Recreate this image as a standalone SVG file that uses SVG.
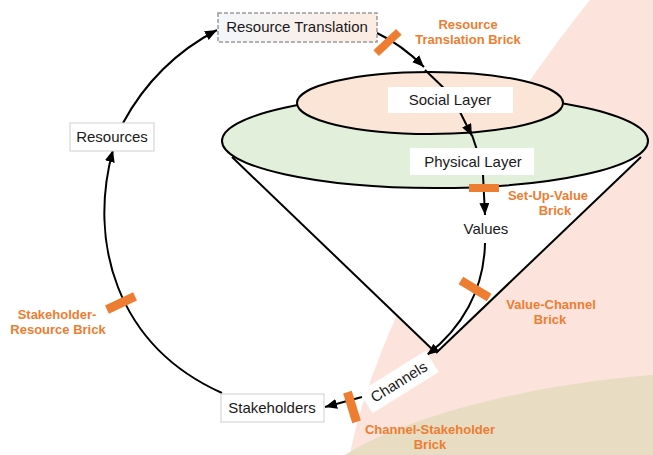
<svg xmlns="http://www.w3.org/2000/svg" width="653" height="455" viewBox="0 0 653 455">
<style>
.lbl{font-family:"Liberation Sans",Arial,sans-serif;font-size:15px;fill:#1a1a1a;text-anchor:middle}
.brk{font-family:"Liberation Sans",Arial,sans-serif;font-size:13px;font-weight:bold;fill:#ed7d31;text-anchor:middle}
.brick{fill:#ed7d31}
.conn{fill:none;stroke:#000;stroke-width:2}
.box{fill:#fff;stroke:#cfcfcf;stroke-width:1}
.plain{fill:#fff}
</style>
<defs>
<marker id="ah" markerUnits="userSpaceOnUse" viewBox="0 0 12 10" refX="12" refY="5" markerWidth="12" markerHeight="10" orient="auto">
<path d="M0,0 L12,5 L0,10 z" fill="#000"/>
</marker>
<linearGradient id="rtg" x1="0" y1="0" x2="1" y2="0">
<stop offset="0" stop-color="#f3f6fa"/>
<stop offset="1" stop-color="#fcebe0"/>
</linearGradient>
</defs>
<rect width="653" height="455" fill="#fff"/>
<g id="background">
<path d="M350,455 C360,390 430,200 590,0 L653,0 L653,455 Z" fill="#fce4dc"/>
<path d="M345,455 C400,420 520,385 653,375 L653,455 Z" fill="#e8dcc3"/>
</g>
<g id="cone">
<polygon points="232,157 641,158 436,352" fill="#fff"/>
<line x1="232" y1="157" x2="434" y2="351" stroke="#000" stroke-width="2"/>
<line x1="641" y1="157" x2="436" y2="353" stroke="#000" stroke-width="2"/>
</g>
<g id="physical-layer">
<ellipse cx="435" cy="141" rx="213" ry="47" fill="#e2efda" stroke="#000" stroke-width="2"/>
</g>
<g id="social-layer">
<ellipse cx="430" cy="103" rx="133" ry="31" fill="#fbe5d6" stroke="#000" stroke-width="2"/>
</g>
<g id="connectors">
<path class="conn" d="M123,123 Q156,62 217,30" marker-end="url(#ah)"/>
<path class="conn" d="M377,33 Q402,45 424,67" marker-end="url(#ah)"/>
<path class="conn" d="M425,70 L448,92"/>
<path class="conn" d="M460,112 L472,136" marker-end="url(#ah)"/>
<path class="conn" d="M472,135 L477,150"/>
<path class="conn" d="M483,175 L485,215" marker-end="url(#ah)"/>
<path class="conn" d="M485,243 C484,290 462,328 427,355" marker-end="url(#ah)"/>
<path class="conn" d="M362,397 L325,407" marker-end="url(#ah)"/>
<path class="conn" d="M222,393 C115,345 88,240 113,150" marker-end="url(#ah)"/>
</g>
<g id="resource-translation">
<rect x="218" y="13" width="159" height="29" fill="url(#rtg)" stroke="#9a9a9a" stroke-width="1.5" stroke-dasharray="4,2"/>
<text class="lbl" x="297" y="32">Resource Translation</text>
</g>
<g id="social-label">
<rect class="plain" x="388" y="87" width="125" height="26"/>
<text class="lbl" x="450" y="105">Social Layer</text>
</g>
<g id="physical-label">
<rect class="plain" x="410" y="148" width="124" height="27"/>
<text class="lbl" x="473" y="167">Physical Layer</text>
</g>
<g id="values">
<text class="lbl" x="486" y="234">Values</text>
</g>
<g id="resources">
<rect class="box" x="70" y="123" width="84" height="28"/>
<text class="lbl" x="112" y="142">Resources</text>
</g>
<g id="stakeholders">
<rect class="box" x="221" y="394" width="103" height="28"/>
<text class="lbl" x="272" y="413">Stakeholders</text>
</g>
<g id="channels" transform="translate(399,382) rotate(-32)">
<rect class="plain" x="-39" y="-12.5" width="78" height="25"/>
<text class="lbl" x="0" y="5">Channels</text>
</g>
<g id="bricks">
<rect class="brick" x="-15.5" y="-4" width="31" height="8" transform="translate(387.5,42.5) rotate(-43)"/>
<rect class="brick" x="469" y="184" width="30" height="8"/>
<rect class="brick" x="-16.5" y="-4.5" width="33" height="9" transform="translate(475,289) rotate(31)"/>
<rect class="brick" x="-15.5" y="-4.5" width="31" height="9" transform="translate(352,407) rotate(73)"/>
<rect class="brick" x="-15.5" y="-4.5" width="31" height="9" transform="translate(121,303) rotate(-25)"/>
</g>
<g id="brick-labels">
<text class="brk" x="468" y="29">Resource</text>
<text class="brk" x="468" y="44">Translation Brick</text>
<text class="brk" x="548" y="200">Set-Up-Value</text>
<text class="brk" x="555" y="215">Brick</text>
<text class="brk" x="551" y="309">Value-Channel</text>
<text class="brk" x="550" y="324">Brick</text>
<text class="brk" x="430" y="434">Channel-Stakeholder</text>
<text class="brk" x="430" y="449">Brick</text>
<text class="brk" x="57" y="319">Stakeholder-</text>
<text class="brk" x="58" y="334">Resource Brick</text>
</g>
</svg>
